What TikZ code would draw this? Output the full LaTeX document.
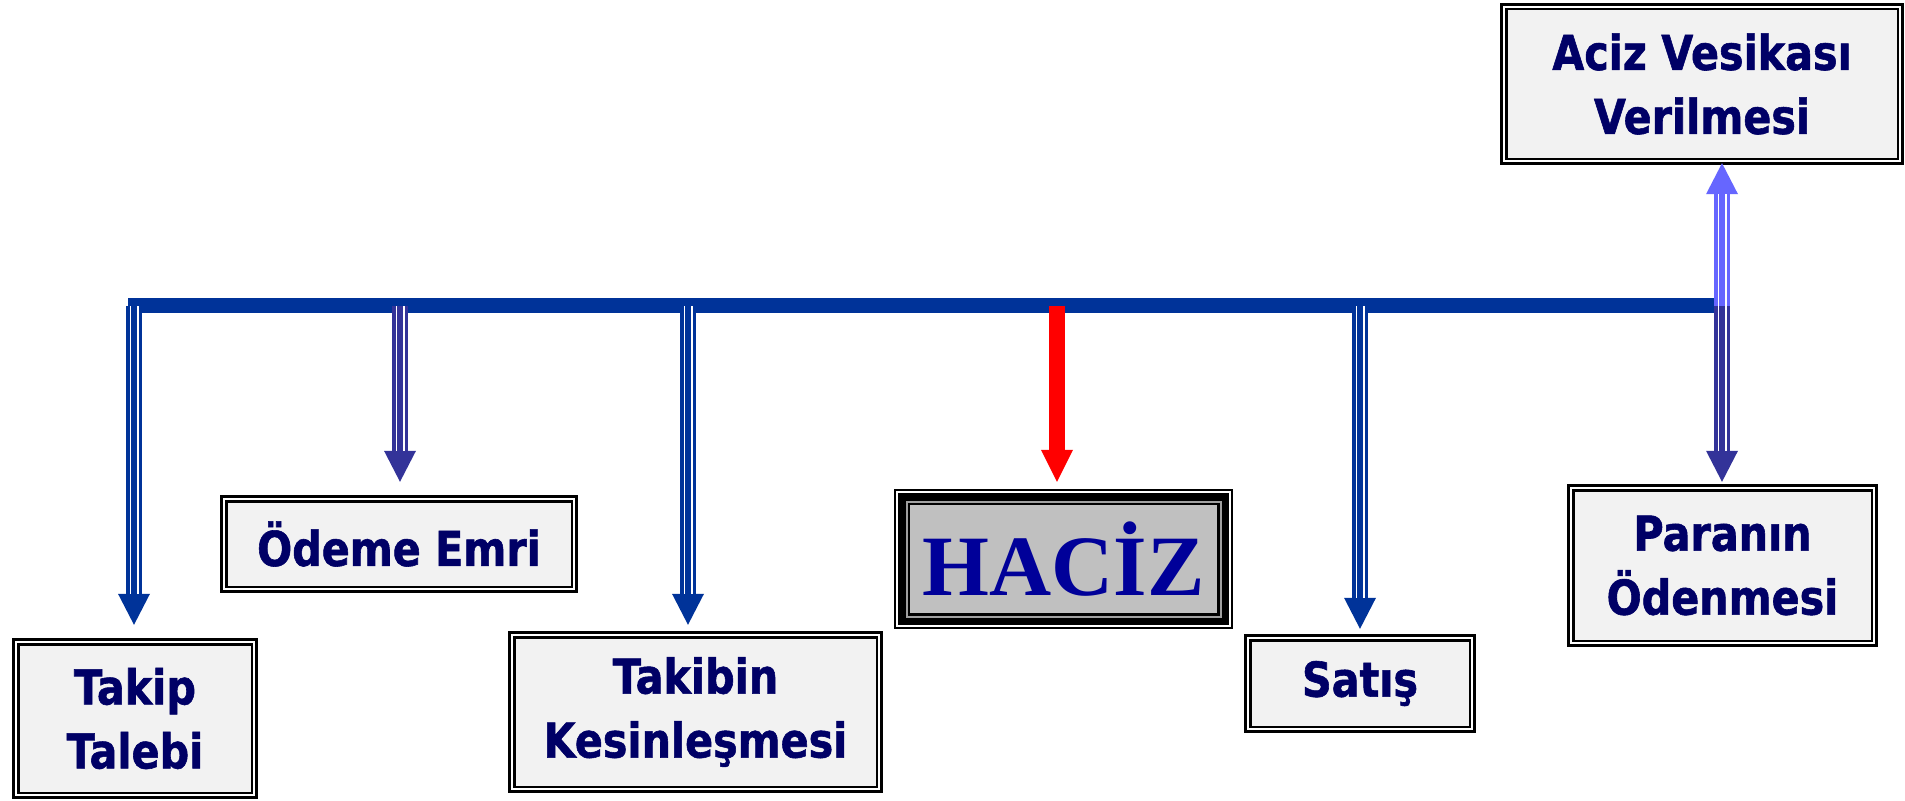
\documentclass[tikz,border=0pt]{standalone}
\usepackage{fontspec}
\usetikzlibrary{arrows.meta,calc}
\newfontfamily\boxfont[FakeStretch=0.86,FakeBold=1.2]{DejaVu Sans}
\newfontfamily\hacizfont{Liberation Serif}
\definecolor{barblue}{HTML}{003399}
\definecolor{purpleblue}{HTML}{333399}
\definecolor{lightblue}{HTML}{6666FF}
\definecolor{navytext}{HTML}{000066}
\definecolor{hazblue}{HTML}{000099}
\definecolor{boxfill}{HTML}{F2F2F2}
\definecolor{hazfill}{HTML}{C0C0C0}
\definecolor{hazring}{HTML}{A0A0A0}
\tikzset{
  stepbox/.style={rectangle, inner sep=0pt, align=center, text=navytext,
    font=\boxfont\bfseries\fontsize{48}{64}\selectfont,
    preaction={draw=black, line width=15pt},
    preaction={draw=white, line width=9pt},
    preaction={draw=black, line width=5pt},
    fill=boxfill},
  hazbox/.style={rectangle, inner sep=0pt, align=center, text=hazblue,
    font=\hacizfont\bfseries\fontsize{86}{86}\selectfont,
    preaction={draw=black, line width=32pt},
    preaction={draw=white, line width=28pt},
    preaction={draw=black, line width=24pt},
    preaction={draw=hazring, line width=9pt},
    preaction={draw=black, line width=5pt},
    fill=hazfill},
  barline/.style={line width=15pt, draw=barblue},
  tri/.style={line width=16pt, draw=#1,
    -{Triangle[width=32pt,length=31pt,line width=0pt]},
    postaction={draw=white, -, line width=1.75pt, double=#1,
      double distance=5.5pt, shorten >=31pt}},
  redarr/.style={line width=16pt, draw=red,
    -{Triangle[width=32pt,length=32pt,line width=0pt]}}
}
\begin{document}
\begin{tikzpicture}[x=1pt,y=-1pt]
\useasboundingbox (0,0) rectangle (1905,800);
\fill[white] (0,0) rectangle (1905,800);

% boxes
\node[stepbox, minimum width=231pt, minimum height=146pt] (takip) at (135,718.5) {Takip\\Talebi};
\node[stepbox, minimum width=343pt, minimum height=83pt] (odeme) at (399,544) {Ödeme Emri};
\node[stepbox, minimum width=360pt, minimum height=147pt] (takibin) at (695.5,712) {Takibin\\Kesinleşmesi};
\node[hazbox, minimum width=307pt, minimum height=108pt] (haciz) at (1063.5,559) {HACİZ};
\node[stepbox, minimum width=217pt, minimum height=84pt] (satis) at (1360,683.5) {Satış};
\node[stepbox, minimum width=296pt, minimum height=148pt] (para) at (1722.5,565.5) {Paranın\\Ödenmesi};
\node[stepbox, minimum width=389pt, minimum height=147pt] (aciz) at (1702,84) {Aciz Vesikası\\Verilmesi};

% bar
\coordinate (barL) at (128,305.5);
\coordinate (barR) at (1729,305.5);
\draw[barline] (barL) -- (barR);

% arrow starts on the bar
\coordinate (s1) at (134,306);
\coordinate (s2) at (400,306);
\coordinate (s3) at (688,306);
\coordinate (s4) at (1057,306);
\coordinate (s5) at (1360,306);
\coordinate (s6) at (1722,306);

\draw[tri=barblue] (s1) -- ($(s1 |- takip.north)+(0,-20.5)$);
\draw[tri=purpleblue] (s2) -- ($(s2 |- odeme.north)+(0,-20.5)$);
\draw[tri=barblue] (s3) -- ($(s3 |- takibin.north)+(0,-13.5)$);
\draw[redarr] (s4) -- ($(s4 |- haciz.north)+(0,-23)$);
\draw[tri=barblue] (s5) -- ($(s5 |- satis.north)+(0,-12.5)$);
\draw[tri=purpleblue] (s6) -- ($(s6 |- para.north)+(0,-9.5)$);
\draw[tri=lightblue] (s6) -- ($(s6 |- aciz.south)+(0,5.5)$);
\end{tikzpicture}
\end{document}
